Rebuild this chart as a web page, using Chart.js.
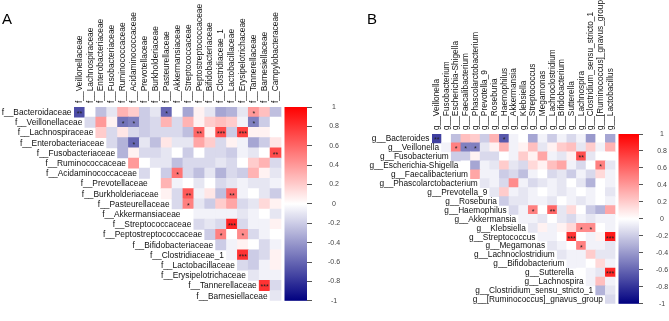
<!DOCTYPE html>
<html><head><meta charset="utf-8">
<script src="https://cdn.jsdelivr.net/npm/chart.js@4/dist/chart.umd.min.js"></script>
<style>
html,body{margin:0;padding:0;background:#fff;width:669px;height:321px;overflow:hidden}
#wrapA{position:absolute;left:0;top:0;width:350px;height:321px}
#wrapB{position:absolute;left:350px;top:0;width:319px;height:321px}
.panel{position:absolute;font-family:'Liberation Sans',Arial,sans-serif;font-size:15px;line-height:17px;color:#000}
</style></head><body>
<div id="wrapA"><canvas id="cA" width="350" height="321"></canvas></div>
<div id="wrapB"><canvas id="cB" width="319" height="321"></canvas></div>
<div class="panel" style="left:2px;top:10px">A</div>
<div class="panel" style="left:367px;top:10px">B</div>
<script>
// ---------- Panel A data ----------
const rowsA = ['f__Bacteroidaceae','f__Veillonellaceae','f__Lachnospiraceae','f__Enterobacteriaceae','f__Fusobacteriaceae','f__Ruminococcaceae','f__Acidaminococcaceae','f__Prevotellaceae','f__Burkholderiaceae','f__Pasteurellaceae','f__Akkermansiaceae','f__Streptococcaceae','f__Peptostreptococcaceae','f__Bifidobacteriaceae','f__Clostridiaceae_1','f__Lactobacillaceae','f__Erysipelotrichaceae','f__Tannerellaceae','f__Barnesiellaceae'];
const colsA = ['f__Veillonellaceae','f__Lachnospiraceae','f__Enterobacteriaceae','f__Fusobacteriaceae','f__Ruminococcaceae','f__Acidaminococcaceae','f__Prevotellaceae','f__Burkholderiaceae','f__Pasteurellaceae','f__Akkermansiaceae','f__Streptococcaceae','f__Peptostreptococcaceae','f__Bifidobacteriaceae','f__Clostridiaceae_1','f__Lactobacillaceae','f__Erysipelotrichaceae','f__Tannerellaceae','f__Barnesiellaceae','f__Campylobacteraceae'];
// each row starts at the diagonal column (row i -> columns i..18)
const valuesA = [
  [-0.7, 0.0, -0.25, -0.1, 0.3, 0.2, -0.2, -0.1, -0.6, 0.0, -0.35, 0.05, -0.1, -0.35, -0.3, -0.1, 0.4, 0.25, -0.25],
  [-0.15, 0.4, 0.05, -0.55, -0.5, -0.2, -0.15, 0.3, -0.15, 0.3, 0.05, 0.2, 0.25, 0.2, -0.05, -0.5, -0.2, 0.0],
  [0.2, -0.15, 0.1, -0.15, -0.2, -0.15, -0.15, -0.15, -0.25, 0.6, 0.05, 0.7, -0.2, 0.75, 0.05, 0.05, 0.0],
  [-0.15, -0.3, -0.6, -0.1, -0.25, 0.1, -0.1, -0.1, 0.35, 0.2, -0.15, 0.05, -0.05, -0.35, -0.2, 0.1],
  [-0.3, 0.05, -0.15, -0.15, -0.1, 0.0, -0.2, 0.0, -0.15, -0.15, -0.2, -0.05, -0.1, 0.0, 0.7],
  [0.4, 0.0, -0.1, -0.1, -0.25, -0.15, -0.15, -0.15, -0.1, -0.15, 0.0, 0.2, 0.3, -0.15],
  [-0.15, 0.0, -0.2, 0.55, -0.15, -0.25, -0.1, -0.3, -0.15, -0.2, 0.3, 0.05, -0.1],
  [0.0, 0.3, -0.05, 0.0, -0.1, 0.0, -0.15, -0.1, -0.05, -0.1, -0.1, -0.05],
  [0.05, -0.15, 0.65, -0.05, 0.1, -0.25, 0.6, -0.05, 0.0, -0.1, -0.2],
  [-0.15, 0.5, -0.1, -0.2, 0.2, 0.35, -0.15, -0.1, 0.15, 0.05],
  [0.0, -0.05, -0.05, -0.05, -0.05, -0.1, -0.05, 0.0, -0.1],
  [-0.15, -0.1, -0.15, 0.85, -0.15, -0.05, -0.05, 0.05],
  [-0.2, 0.5, 0.0, 0.45, -0.15, -0.05, 0.0],
  [-0.2, -0.05, 0.05, 0.0, -0.15, -0.05],
  [-0.05, 0.8, -0.2, -0.15, 0.05],
  [-0.15, -0.2, -0.05, 0.05],
  [-0.1, -0.05, -0.05],
  [0.8, -0.15],
  [-0.1]
];
// [row, column, marks]
const sigA = [[0,0,'**'],[0,8,'*'],[0,16,'*'],[1,4,'*'],[1,5,'*'],[1,16,'*'],[2,11,'**'],[2,13,'***'],[2,15,'***'],[3,5,'*'],[4,18,'**'],[6,9,'*'],[8,10,'**'],[8,14,'**'],[9,10,'*'],[11,14,'***'],[12,13,'*'],[12,15,'*'],[14,15,'***'],[17,17,'***']];

// ---------- Panel B data ----------
const rowsB = ['g__Bacteroides','g__Veillonella','g__Fusobacterium','g__Escherichia-Shigella','g__Faecalibacterium','g__Phascolarctobacterium','g__Prevotella_9','g__Roseburia','g__Haemophilus','g__Akkermansia','g__Klebsiella','g__Streptococcus','g__Megamonas','g__Lachnoclostridium','g__Bifidobacterium','g__Sutterella','g__Lachnospira','g__Clostridium_sensu_stricto_1','g__[Ruminococcus]_gnavus_group'];
const colsB = ['g__Veillonella','g__Fusobacterium','g__Escherichia-Shigella','g__Faecalibacterium','g__Phascolarctobacterium','g__Prevotella_9','g__Roseburia','g__Haemophilus','g__Akkermansia','g__Klebsiella','g__Streptococcus','g__Megamonas','g__Lachnoclostridium','g__Bifidobacterium','g__Sutterella','g__Lachnospira','g__Clostridium_sensu_stricto_1','g__[Ruminococcus]_gnavus_group','g__Lactobacillus'];
const valuesB = [
  [-0.75, 0.0, -0.25, 0.25, 0.2, -0.2, 0.3, -0.65, -0.05, 0.0, -0.35, -0.05, -0.2, -0.05, -0.15, -0.05, -0.4, 0.0, -0.35],
  [-0.05, 0.5, -0.5, -0.5, -0.1, 0.05, 0.3, -0.05, 0.05, 0.25, -0.1, 0.05, 0.2, 0.25, -0.1, 0.2, -0.05, 0.3],
  [-0.2, -0.2, 0.05, -0.15, -0.15, 0.0, -0.05, 0.2, 0.05, 0.35, -0.05, -0.1, 0.05, 0.7, -0.1, 0.0, 0.0],
  [0.0, -0.35, -0.05, -0.1, 0.2, -0.1, -0.15, 0.15, 0.05, 0.25, 0.35, -0.05, -0.15, 0.0, 0.5, -0.1],
  [0.35, -0.05, -0.05, -0.2, -0.15, -0.25, -0.05, 0.0, -0.15, -0.1, -0.2, -0.05, -0.15, 0.15, -0.05],
  [-0.1, -0.05, -0.15, 0.45, -0.05, -0.15, -0.1, -0.05, -0.1, 0.0, -0.1, -0.3, 0.0, -0.05],
  [-0.1, 0.2, -0.05, -0.1, -0.05, 0.0, -0.05, -0.1, -0.05, 0.0, -0.05, 0.0, -0.1],
  [-0.2, -0.1, -0.1, -0.05, -0.05, -0.1, 0.0, -0.05, -0.1, -0.05, 0.0, -0.05],
  [-0.15, -0.05, 0.5, 0.0, 0.6, -0.1, 0.15, 0.0, -0.2, -0.3, 0.35],
  [-0.05, -0.05, -0.1, 0.0, -0.1, -0.15, -0.05, -0.1, -0.05, -0.05],
  [-0.1, 0.05, -0.05, 0.05, 0.15, 0.45, 0.45, 0.0, -0.05],
  [-0.05, -0.05, 0.0, 0.8, 0.0, -0.05, 0.05, 0.9],
  [-0.1, -0.05, 0.0, 0.5, -0.05, -0.05, -0.1],
  [-0.1, -0.05, -0.05, 0.2, -0.1, -0.1],
  [-0.05, -0.05, 0.0, 0.15, -0.05],
  [0.0, -0.05, -0.1, 0.85],
  [-0.05, 0.25, -0.05],
  [-0.3, -0.1],
  [-0.15]
];
const sigB = [[0,0,'**'],[0,7,'*'],[1,2,'*'],[1,3,'*'],[1,4,'*'],[2,15,'**'],[3,17,'*'],[8,10,'*'],[8,12,'**'],[10,15,'*'],[10,16,'*'],[11,14,'***'],[11,18,'***'],[12,15,'*'],[15,18,'***']];

// ---------- colour bar ticks ----------
const cbTicks = [-1, -0.8, -0.6, -0.4, -0.2, 0, 0.2, 0.4, 0.6, 0.8, 1];
const cbLabels = ['-1', '-0.8', '-0.6', '-0.4', '-0.2', '0', '0.2', '0.4', '0.6', '0.8', '1'];

const FONT = "'Liberation Sans', Arial, sans-serif";

function colorFor(v) {
  v = Math.max(-1, Math.min(1, v));
  let r, g, b;
  if (v >= 0) { r = 255; g = b = 255 * (1 - v); }
  else { const t = -v; r = g = 255 * (1 - t); b = 255 - 127 * t; }
  return `rgb(${Math.round(r)},${Math.round(g)},${Math.round(b)})`;
}

function buildCells(values) {
  const out = [];
  values.forEach((row, i) => row.forEach((v, k) => out.push({ x: i + k, y: [i - 0.5, i + 0.5], v })));
  return out;
}

const heatPlugin = {
  id: 'heat',
  beforeDatasetsDraw(chart, args, o) {
    const ctx = chart.ctx, x = chart.scales.x, y2 = chart.scales.y2, area = chart.chartArea;
    const x0 = x.getPixelForValue(o.nCols - 0.5) + o.gap;
    const top = y2.getPixelForValue(1), bot = y2.getPixelForValue(-1);
    const g = ctx.createLinearGradient(0, top, 0, bot);
    for (let k = 0; k <= 40; k++) g.addColorStop(k / 40, colorFor(1 - k / 20));
    ctx.save();
    ctx.fillStyle = g;
    ctx.fillRect(x0, top, area.right - x0, bot - top);
    ctx.restore();
  },
  afterDatasetsDraw(chart, args, o) {
    const ctx = chart.ctx, x = chart.scales.x, y = chart.scales.y;
    ctx.save();
    // significance marks
    ctx.fillStyle = '#222';
    ctx.textAlign = 'center';
    ctx.textBaseline = 'middle';
    ctx.font = `7px ${FONT}`;
    o.sig.forEach(([r, c, m]) => {
      ctx.fillText(m, x.getPixelForValue(c), y.getPixelForValue(r) + 2);
    });
    // row labels along the diagonal
    ctx.fillStyle = '#111';
    ctx.textAlign = 'right';
    ctx.font = `${o.labelSize}px ${FONT}`;
    o.rows.forEach((lab, i) => {
      ctx.fillText(lab, x.getPixelForValue(i - 0.5) - 2.5, y.getPixelForValue(i) + 0.5);
    });
    ctx.restore();
  }
};

function makeChart(id, rows, cols, values, sig, L) {
  const W = L.width, H = 321;
  const cell = (H - L.axisTop - L.padBottom) / rows.length;
  const maxX = -0.5 + (W - L.padLeft - L.cbAxisW) / cell;
  return new Chart(document.getElementById(id), {
    type: 'bar',
    data: {
      datasets: [{
        data: buildCells(values),
        backgroundColor: c => colorFor(c.raw ? c.raw.v : 0),
        borderWidth: 0,
        inflateAmount: 0.35,
        barPercentage: 1,
        categoryPercentage: 1
      }]
    },
    plugins: [heatPlugin],
    options: {
      responsive: false,
      animation: false,
      events: [],
      layout: { padding: { left: L.padLeft, top: 0, right: 0, bottom: L.padBottom } },
      plugins: {
        legend: { display: false },
        tooltip: { enabled: false },
        heat: { rows, sig, nCols: cols.length, gap: L.gap, labelSize: L.labelSize }
      },
      scales: {
        x: {
          type: 'linear', position: 'top', min: -0.5, max: maxX, offset: false,
          grid: { display: false, drawTicks: false },
          border: { display: false },
          afterBuildTicks: ax => { ax.ticks = cols.map((_, i) => ({ value: i })); },
          afterFit: ax => { ax.height = L.axisTop; },
          ticks: {
            autoSkip: false, minRotation: 90, maxRotation: 90, padding: 4,
            labelOffset: L.labelShift,
            color: '#111', font: { family: FONT, size: L.labelSize },
            callback: v => cols[v]
          }
        },
        y: {
          type: 'linear', reverse: true, min: -0.5, max: rows.length - 0.5, display: false
        },
        y2: {
          type: 'linear', position: 'right', min: -1, max: 1,
          grid: { drawOnChartArea: false, drawTicks: true, tickLength: L.tickLen, color: '#555', lineWidth: 1 },
          border: { display: false },
          afterBuildTicks: ax => { ax.ticks = cbTicks.map(v => ({ value: v })); },
          afterFit: ax => { ax.width = L.cbAxisW; },
          ticks: {
            crossAlign: 'center', padding: L.cbPad, color: '#444',
            font: { family: FONT, size: 7 },
            callback: (v, i) => cbLabels[i]
          }
        }
      }
    }
  });
}

makeChart('cA', rowsA, colsA, valuesA, sigA,
  { width: 350, padLeft: 74, axisTop: 107, padBottom: 7, cbAxisW: 43, gap: 3.5, tickLen: 5, cbPad: 16, labelSize: 8.4, labelShift: 10 });
makeChart('cB', rowsB, colsB, valuesB, sigB,
  { width: 319, padLeft: 82, axisTop: 134, padBottom: 4, cbAxisW: 30, gap: 3.5, tickLen: 4, cbPad: 13, labelSize: 8.3, labelShift: 10 });
</script>
</body></html>
